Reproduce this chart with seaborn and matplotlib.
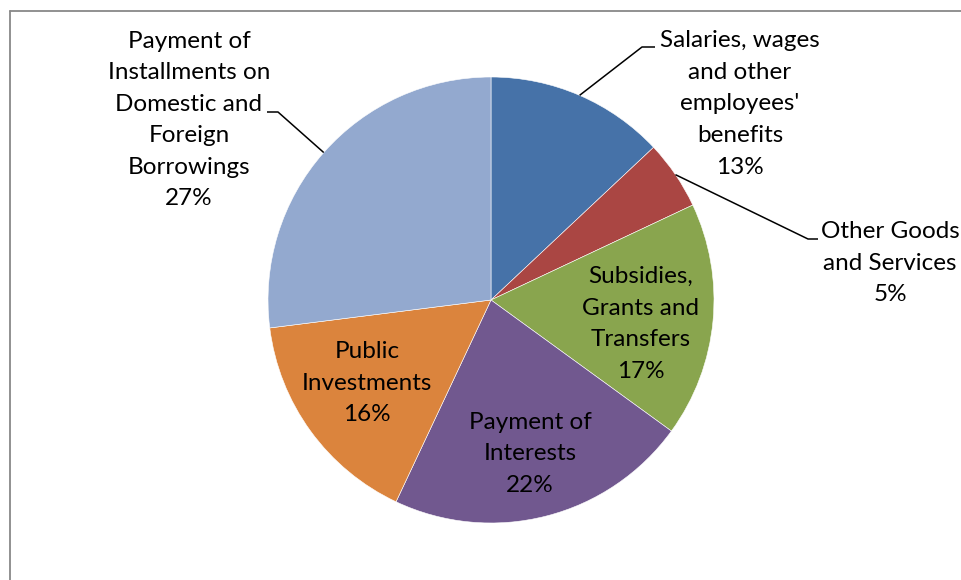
import numpy as np
import matplotlib
matplotlib.use("Agg")
import matplotlib.pyplot as plt
from matplotlib.lines import Line2D
import seaborn as sns

# Budget expenditure shares (percent), clockwise from 12 o'clock
categories = [
    "Salaries, wages\nand other\nemployees'\nbenefits",
    "Other Goods\nand Services",
    "Subsidies,\nGrants and\nTransfers",
    "Payment of\nInterests",
    "Public\nInvestments",
    "Payment of\nInstallments on\nDomestic and\nForeign\nBorrowings",
]
shares = [13, 5, 17, 22, 16, 27]
colors = ["#4672A8", "#AA4643", "#89A54E", "#71588F", "#DB843D", "#93A9CF"]

sns.set_theme(style="white")
plt.rcParams["font.family"] = ["Lato", "DejaVu Sans"]

W, H = 962, 580
fig = plt.figure(figsize=(W / 100, H / 100), dpi=100)
ax = fig.add_axes([0, 0, 1, 1])

cx, cy, r = 491, H - 300, 223
wedges, _ = ax.pie(
    shares,
    colors=sns.color_palette(colors),
    startangle=90,
    counterclock=False,
    center=(cx, cy),
    radius=r,
    wedgeprops=dict(edgecolor="white", linewidth=0.4),
)
ax.set_xlim(0, W)
ax.set_ylim(0, H)
ax.set_aspect("auto")
ax.axis("off")

# label placement: (x, y-from-top) of the text block centre, optional elbow
placements = [
    dict(xy=(740, 104), elbow=((642, 47), (655, 47))),
    dict(xy=(890, 263), elbow=((808, 239), (818, 239))),
    dict(xy=(641, 324), elbow=None),
    dict(xy=(530, 454), elbow=None),
    dict(xy=(367, 383), elbow=None),
    dict(xy=(189, 120), elbow=((320, 153), (278, 112), (267, 112))),
]

for w, cat, val, pl in zip(wedges, categories, shares, placements):
    x, y = pl["xy"]
    ax.text(x, H - y, f"{cat}\n{val}%", ha="center", va="center",
            fontsize=17.5, linespacing=1.62, color="black")
    if pl["elbow"] is not None:
        mid = np.deg2rad((w.theta1 + w.theta2) / 2)
        sx, sy = cx + r * np.cos(mid), cy + r * np.sin(mid)
        pts = [(sx, sy)] + [(px, H - py) for px, py in pl["elbow"][-2:]]
        ax.plot([p[0] for p in pts], [p[1] for p in pts],
                color="black", linewidth=1.1, solid_capstyle="butt")

# chart frame (left and top edges)
fig.add_artist(Line2D([10 / W, 10 / W], [0, 1 - 11 / H], transform=fig.transFigure,
                      color="#888888", linewidth=1.3))
fig.add_artist(Line2D([10 / W, 1], [1 - 11 / H, 1 - 11 / H], transform=fig.transFigure,
                      color="#888888", linewidth=1.3))

fig.savefig("out.png", dpi=100, facecolor="white")
